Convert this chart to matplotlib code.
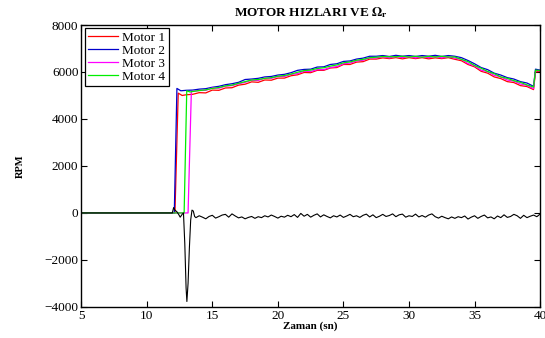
import numpy as np
import matplotlib
matplotlib.use("Agg")
import matplotlib.pyplot as plt

plt.rcParams['font.family'] = ['Liberation Serif', 'DejaVu Serif']
plt.rcParams['mathtext.fontset'] = 'stix'

# ---------------- data ----------------
labels = ["Motor 1", "Motor 2", "Motor 3", "Motor 4"]
colors = ["#ff0000", "#0000cc", "#ff00ff", "#00ee00"]

tail_t = [13.5 + 0.5 * i for i in range(53)] + [39.65, 40.0]

m1_head_t = [5, 12.15, 12.4, 12.7, 13.0]
m1_head_v = [0, 0, 5100, 5000, 5030]
m2_head_t = [5, 12.1, 12.3, 12.6, 13.0]
m2_head_v = [0, 0, 5300, 5200, 5220]
m3_head_t = [5, 13.15, 13.4]
m3_head_v = [0, 0, 5150]
m4_head_t = [5, 12.85, 13.05, 13.3]
m4_head_v = [0, 0, 5200, 5150]

m1_tail = [5050, 5120, 5110, 5230, 5220, 5320, 5330, 5440, 5480, 5580,
           5560, 5660, 5650, 5740, 5740, 5840, 5880, 5980, 5970, 6070,
           6070, 6170, 6190, 6320, 6320, 6420, 6440, 6550, 6550, 6600,
           6570, 6610, 6560, 6610, 6570, 6610, 6560, 6600, 6570, 6610,
           6540, 6480, 6320, 6220, 6030, 5950, 5790, 5720, 5590, 5550,
           5420, 5380, 5250, 6000, 6030]
m2_tail = [5230, 5270, 5290, 5350, 5390, 5460, 5500, 5560, 5680, 5700,
           5730, 5790, 5810, 5870, 5900, 5970, 6070, 6110, 6120, 6210,
           6220, 6320, 6350, 6450, 6470, 6550, 6590, 6670, 6670, 6700,
           6660, 6710, 6670, 6700, 6660, 6700, 6670, 6710, 6660, 6700,
           6670, 6610, 6490, 6350, 6190, 6100, 5950, 5870, 5760, 5700,
           5590, 5530, 5390, 6120, 6080]
m3_tail = [5180, 5210, 5220, 5320, 5310, 5400, 5420, 5500, 5560, 5650,
           5640, 5740, 5730, 5810, 5810, 5900, 5930, 6030, 6020, 6100,
           6100, 6190, 6230, 6350, 6380, 6470, 6500, 6600, 6600, 6650,
           6600, 6660, 6610, 6660, 6600, 6650, 6610, 6660, 6600, 6650,
           6590, 6540, 6360, 6260, 6080, 6010, 5860, 5790, 5660, 5610,
           5490, 5430, 5290, 6060, 6050]
m4_tail = [5170, 5210, 5240, 5300, 5340, 5410, 5440, 5520, 5590, 5660,
           5680, 5730, 5760, 5820, 5850, 5910, 5990, 6060, 6080, 6150,
           6180, 6250, 6300, 6390, 6430, 6500, 6540, 6610, 6630, 6660,
           6650, 6650, 6670, 6640, 6670, 6630, 6670, 6640, 6670, 6640,
           6640, 6540, 6440, 6280, 6160, 6020, 5930, 5790, 5730, 5630,
           5560, 5450, 5360, 6080, 6060]

omega_head_t = [5, 11.95, 12.05, 12.15, 12.3, 12.45, 12.55, 12.7, 12.8, 12.9,
                13.0, 13.06, 13.15, 13.25, 13.35, 13.45, 13.55, 13.65]
omega_head_v = [0, 0, 230, 120, 50, -80, -180, -60, 0, -1300,
                -3200, -3770, -3000, -1500, -300, 120, 80, -150]
omega_tail_t = [13.75 + 0.25 * i for i in range(106)]
omega_tail_v = [-200, -120, -180, -250, -150, -100, -220, -160, -90, -60,
                -180, -40, -130, -210, -170, -250, -190, -150, -230, -160,
                -200, -120, -170, -90, -150, -220, -140, -180, -100, -160,
                -70, -190, -20, -140, -60, -180, -100, -40, -170, -80,
                -150, -210, -120, -170, -90, -190, -130, -60, -160, -120,
                -190, -100, -50, -170, -80, -200, -140, -60, -150, -110,
                -40, -160, -80, -50, -180, -120, -150, -50, -170, -110,
                -180, -90, -40, -160, -220, -140, -200, -250, -170, -230,
                -160, -200, -130, -260, -180, -120, -230, -150, -90, -210,
                -170, -250, -130, -200, -80, -190, -150, -60, -120, -230,
                -100, -200, -140, -90, -160, -50]

x_ticks = [5, 10, 15, 20, 25, 30, 35, 40]
y_ticks = [-4000, -2000, 0, 2000, 4000, 6000, 8000]

# ---------------- plot ----------------
fig = plt.figure(figsize=(5.45, 3.38), dpi=100)
ax = fig.add_axes([0.149, 0.092, 0.842, 0.834])

heads = [(m1_head_t, m1_head_v), (m2_head_t, m2_head_v),
         (m3_head_t, m3_head_v), (m4_head_t, m4_head_v)]
tails = [m1_tail, m2_tail, m3_tail, m4_tail]
for (ht, hv), tv, c, lab in zip(heads, tails, colors, labels):
    ax.plot(list(ht) + tail_t, list(hv) + tv, color=c, lw=0.9, label=lab)

ax.plot(omega_head_t + omega_tail_t, omega_head_v + omega_tail_v,
        color="black", lw=0.8)

ax.set_xlim(5, 40)
ax.set_ylim(-4000, 8000)
ax.set_xticks(x_ticks)
ax.set_yticks(y_ticks)
ax.tick_params(direction="in", top=True, right=True, length=4, width=0.8,
               labelsize=9.5, pad=2)
for s in ax.spines.values():
    s.set_linewidth(1.0)

ax.set_title(r"MOTOR HIZLARI VE $\mathbf{\Omega_r}$", fontsize=9.5,
             fontweight="bold", pad=6)
ax.set_xlabel("Zaman (sn)", fontsize=8, fontweight="bold", labelpad=0)
ax.set_ylabel("RPM", fontsize=7.5, fontweight="bold", labelpad=14)

leg = ax.legend(loc="upper left", fontsize=9.5, frameon=True, fancybox=False,
                edgecolor="black", framealpha=1, handlelength=2.3,
                handletextpad=0.3, labelspacing=0.05, borderpad=0.25,
                borderaxespad=0.25)
leg.get_frame().set_linewidth(0.9)

fig.savefig("out.png", dpi=100)
